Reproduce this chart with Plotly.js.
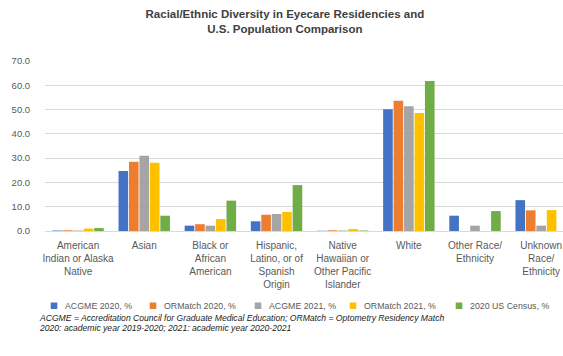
<!DOCTYPE html>
<html><head><meta charset="utf-8">
<script src="https://cdn.plot.ly/plotly-3.0.1.min.js"></script>
<style>html,body{margin:0;padding:0;background:#fff}#chart{width:563px;height:356px}</style>
</head><body><div id="chart"></div>
<script>
const categories = ["American<br>Indian or Alaska<br>Native","Asian","Black or<br>African<br>American","Hispanic,<br>Latino, or of<br>Spanish<br>Origin","Native<br>Hawaiian or<br>Other Pacific<br>Islander","White","Other Race/<br>Ethnicity","Unknown<br>Race/<br>Ethnicity"];
const seriesNames = ["ACGME 2020, %","ORMatch 2020, %","ACGME 2021, %","ORMatch 2021, %","2020 US Census, %"];
const acgme2020 = [0.2, 24.7, 2.2, 4.0, 0.1, 50.1, 6.3, 12.7];
const ormatch2020 = [0.3, 28.5, 2.8, 6.7, 0.3, 53.6, 0, 8.5];
const acgme2021 = [0.2, 31.0, 2.2, 7.0, 0.2, 51.4, 2.2, 2.2];
const ormatch2021 = [1.0, 28.1, 4.9, 7.8, 0.8, 48.6, 0, 8.6];
const census2020 = [1.2, 6.3, 12.5, 18.9, 0.2, 61.8, 8.2, 0];
const colors = ["#4472C4","#ED7D31","#A5A5A5","#FFC000","#70AD47"];
const legendWidths = [54, 60, 50, 61, 80];
const allSeries = [acgme2020, ormatch2020, acgme2021, ormatch2021, census2020];
const footnotes = ["ACGME = Accreditation Council for Graduate Medical Education; ORMatch = Optometry Residency Match",
                   "2020: academic year 2019-2020; 2021: academic year 2020-2021"];

const xIdx = categories.map((c,i)=>i);
const traces = allSeries.map((vals,k)=>({
  type:'bar', x:xIdx, y:vals, name:seriesNames[k],
  marker:{color:colors[k]}, hoverinfo:'y', legendwidth:legendWidths[k]
}));

const layout = {
  width:563, height:356,
  margin:{l:45, r:0, t:61, b:125, autoexpand:false},
  paper_bgcolor:'#fff', plot_bgcolor:'#fff',
  font:{family:'Liberation Sans, Arial, sans-serif', color:'#595959', size:9},
  title:{text:'<b>Racial/Ethnic Diversity in Eyecare Residencies and<br>U.S. Population Comparison</b>',
    font:{size:11.5, color:'#404040'}, x:0.506, xref:'container', xanchor:'center', y:0.95, yref:'container', yanchor:'middle'},
  barmode:'group', bargap:0.21, bargroupgap:0.08,
  xaxis:{range:[-0.5,7.33], tickmode:'array', tickvals:xIdx, ticktext:categories,
    showgrid:false, showline:false, zeroline:false, ticks:'outside', ticklen:5, tickcolor:'rgba(0,0,0,0)',
    tickfont:{size:10, color:'#595959'}, fixedrange:true},
  yaxis:{range:[0,70], dtick:10, tickformat:'.1f', gridcolor:'#D9D9D9', gridwidth:1,
    zeroline:true, zerolinecolor:'#D9D9D9', zerolinewidth:1, showline:false,
    ticks:'outside', ticklen:12, tickcolor:'rgba(0,0,0,0)',
    tickfont:{size:9.5, color:'#595959'}},
  showlegend:true,
  legend:{orientation:'h', x:-0.0386, xanchor:'left', y:-0.44, yanchor:'middle',
    font:{size:8.8, color:'#595959'}, itemwidth:30, traceorder:'normal', bgcolor:'rgba(0,0,0,0)'},
  annotations:footnotes.map((t,i)=>({xref:'paper', yref:'paper', x:-0.015, y:-0.512 - i*0.058,
    xanchor:'left', yanchor:'middle', align:'left', showarrow:false,
    font:{size:8.6, color:'#222'}, text:'<i>'+t+'</i>'}))
};
Plotly.newPlot('chart', traces, layout, {displayModeBar:false, staticPlot:true}).then(function(){
  document.querySelectorAll('#chart .legend .legendpoints path').forEach(function(p){
    if(p.dataset.shrunk) return;
    var t = p.getAttribute('transform') || '';
    p.setAttribute('transform', (t + ' translate(9,0) scale(0.55)').trim());
    p.dataset.shrunk = '1';
  });
});
</script></body></html>
